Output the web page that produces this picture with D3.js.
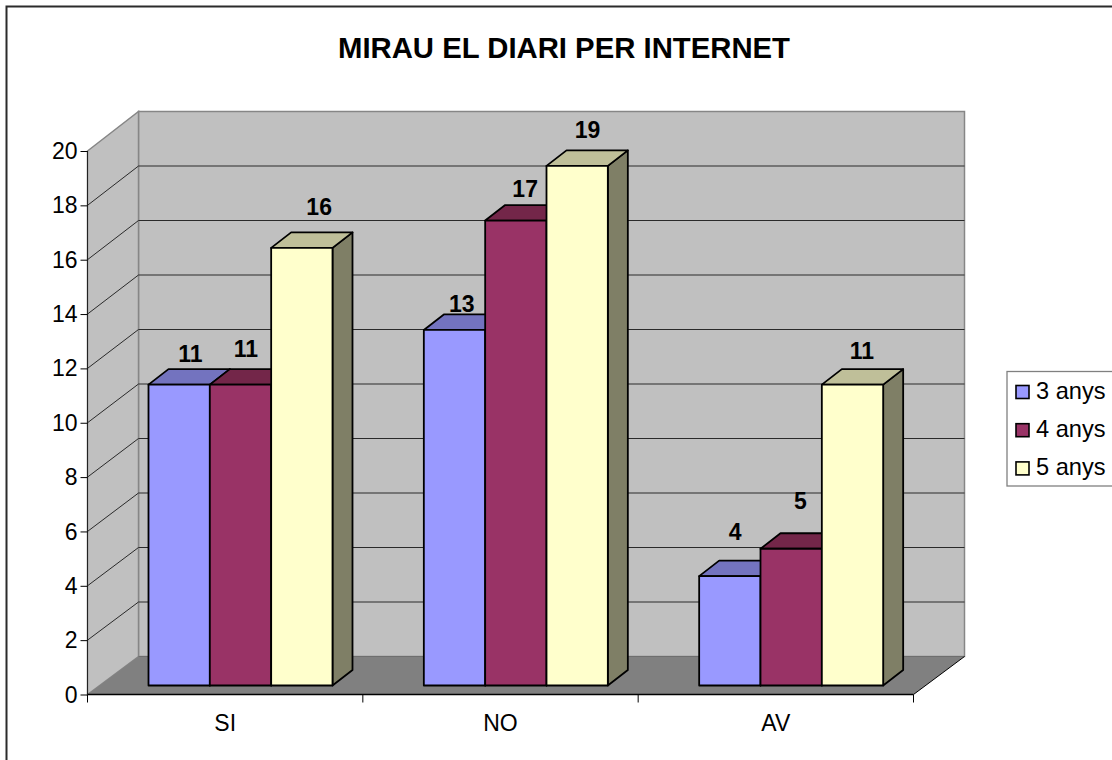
<!DOCTYPE html>
<html><head><meta charset="utf-8">
<script src="https://cdnjs.cloudflare.com/ajax/libs/d3/7.8.5/d3.min.js"></script>
<style>html,body{margin:0;padding:0;background:#fff}svg{display:block}text{font-family:"Liberation Sans",Arial,sans-serif;fill:#000}</style>
</head><body><svg id="c" width="1112" height="760"></svg>
<script>
const categories = ["SI","NO","AV"];
const seriesNames = ["3 anys","4 anys","5 anys"];
const anys3 = [11,13,4];
const anys4 = [11,17,5];
const anys5 = [16,19,11];
const seriesValues = [anys3,anys4,anys5];
const yTicks = [0,2,4,6,8,10,12,14,16,18,20];
const title = "MIRAU EL DIARI PER INTERNET";
const faceColors = ["#9999ff","#993366","#ffffcc"];
const topColors = ["#7373bf","#732649","#bfbf99"];
const sideColors = ["#5c5c99","#5c1f3d","#7f7f66"];
// label placement nudges (series x category)
const labelDx = [[42,38,36],[36,40,40],[48,41,40]];
const labelDy = [[30,25,43],[35,31,47],[40,35,33]];

const svg = d3.select("#c");
const W=1112,H=760;
const depth={x:51,y:-38};
const barDepth={x:20,y:-15.5};
const x=d3.scaleBand().domain(categories).range([87.5,913.5]);
const yFront=d3.scaleLinear().domain([0,20]).range([694.5,151]);
const yBack=d3.scaleLinear().domain([0,20]).range([656.5,111.5]);
const yBar=d3.scaleLinear().domain([0,20]).range([685.5,138.5]);
const inner=d3.scaleBand().domain(d3.range(3)).range([61,61+184]);
const line=d3.line();

// frame
svg.append("rect").attr("x",6.5).attr("y",6.5).attr("width",W+20).attr("height",H+20).attr("fill","#fff").attr("stroke","#2b2b2b").attr("stroke-width",2);

const x0=x.range()[0],x1=x.range()[1];
// back wall, side wall, floor
svg.append("path").attr("d",line([[x0+depth.x,yBack(20)],[x1+depth.x,yBack(20)],[x1+depth.x,yBack(0)],[x0+depth.x,yBack(0)]])+"Z").attr("fill","#c0c0c0").attr("stroke","#868686").attr("stroke-width",1.5);
svg.append("path").attr("d",line([[x0,yFront(20)],[x0+depth.x,yBack(20)],[x0+depth.x,yBack(0)],[x0,yFront(0)]])+"Z").attr("fill","#c0c0c0").attr("stroke","#868686").attr("stroke-width",1.5);
svg.append("path").attr("d",line([[x0,yFront(0)],[x0+depth.x,yBack(0)],[x1+depth.x,yBack(0)],[x1,yFront(0)]])+"Z").attr("fill","#808080").attr("stroke","none");
svg.append("path").attr("d",line([[x0+depth.x,yBack(0)],[x1+depth.x,yBack(0)]])).attr("stroke","#6e6e6e").attr("stroke-width",1.2);
// gridlines
yTicks.filter(v=>v>0&&v<20).forEach(v=>{
  svg.append("path").attr("d",line([[x0,yFront(v)],[x0+depth.x,yBack(v)],[x1+depth.x,yBack(v)]])).attr("fill","none").attr("stroke","#2a2a2a").attr("stroke-width",1);
});
// axes
const yAxis=d3.axisLeft(yFront).tickValues(yTicks).tickSize(7).tickPadding(3);
const ga=svg.append("g").attr("transform",`translate(${x0},0)`).call(yAxis);
ga.selectAll("text").style("font-size","23px").attr("dy","0.33em");
ga.selectAll("path,line").attr("stroke","#000");
ga.select("path").attr("stroke","#222").attr("d",`M0,${yFront(20)}V${yFront(0)}`);
const xAxis=d3.axisBottom(x).tickSize(0).tickPadding(20);
const gx=svg.append("g").attr("transform",`translate(0,${yFront(0)})`).call(xAxis);
gx.selectAll("text").style("font-size","23px");
gx.select("path").attr("stroke","#000").attr("stroke-width",1.3).attr("d",`M${x0},0H${x1}`);
[...categories.map(c=>x(c)),x1].forEach(t=>{
  gx.append("line").attr("x1",t).attr("x2",t).attr("y1",0).attr("y2",8).attr("stroke","#000");
});
gx.selectAll(".tick text").attr("dy","0.71em");
// slanted right edge of floor
svg.append("path").attr("d",line([[x1,yFront(0)],[x1+depth.x,yBack(0)]])).attr("stroke","#000").attr("stroke-width",1);

// bars, drawn per category in series order
const bars=svg.append("g").attr("stroke","#000").attr("stroke-width",1.8).attr("stroke-linejoin","round");
categories.forEach((c,ci)=>{
  seriesValues.forEach((vals,si)=>{
    const v=vals[ci];
    const l=x(c)+inner(si), r=l+inner.bandwidth(), t=yBar(v), b=yBar(0);
    const g=bars.append("g");
    g.append("path").attr("d",line([[r,t],[r+barDepth.x,t+barDepth.y],[r+barDepth.x,b+barDepth.y],[r,b]])+"Z").attr("fill",sideColors[si]);
    g.append("path").attr("d",line([[l,t],[l+barDepth.x,t+barDepth.y],[r+barDepth.x,t+barDepth.y],[r,t]])+"Z").attr("fill",topColors[si]);
    g.append("rect").attr("x",l).attr("y",t).attr("width",r-l).attr("height",b-t).attr("fill",faceColors[si]);
  });
});
// data labels
categories.forEach((c,ci)=>{
  seriesValues.forEach((vals,si)=>{
    const v=vals[ci];
    svg.append("text").attr("x",x(c)+inner(si)+labelDx[si][ci]).attr("y",yBar(v)-labelDy[si][ci]).attr("dy","0.32em")
      .attr("text-anchor","middle").attr("font-weight","bold").attr("font-size",23).text(v);
  });
});
// title
svg.append("text").attr("x",564).attr("y",58).attr("text-anchor","middle").attr("font-weight","bold").attr("font-size",29.3).text(title);
// legend
const lg=svg.append("g");
lg.append("rect").attr("x",1007).attr("y",371.5).attr("width",130).attr("height",114.5).attr("fill","#fff").attr("stroke","#808080").attr("stroke-width",1.3);
seriesNames.forEach((n,i)=>{
  const cy=392+i*38.2;
  lg.append("rect").attr("x",1016).attr("y",cy-6.5).attr("width",13).attr("height",13).attr("fill",faceColors[i]).attr("stroke","#000").attr("stroke-width",1.6);
  lg.append("text").attr("x",1036).attr("y",cy).attr("dy","0.3em").attr("font-size",23.6).text(n);
});
</script></body></html>
